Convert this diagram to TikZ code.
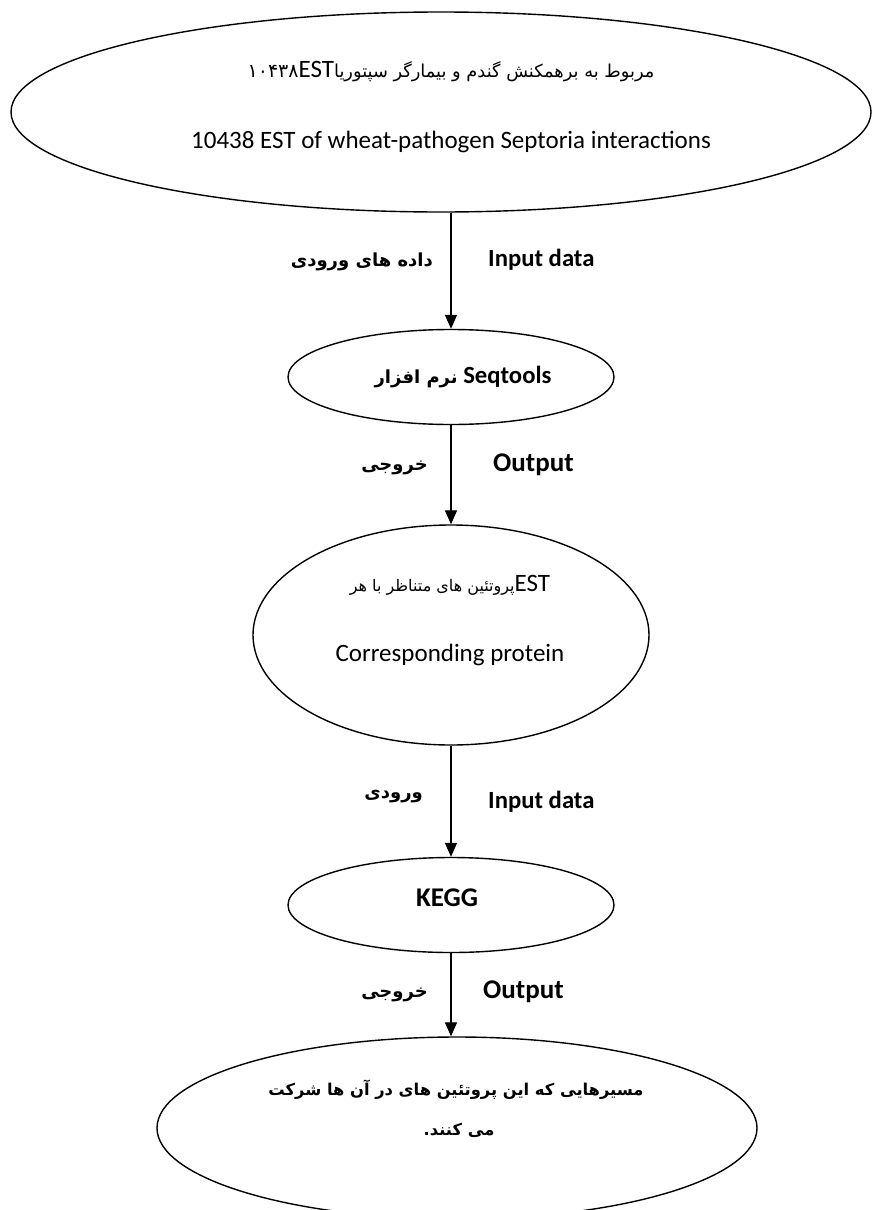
\documentclass[tikz,border=0pt]{standalone}
\usepackage{fontspec}
\setmainfont{Carlito}
\newfontfamily\fa[Script=Arabic]{DejaVu Sans}
\TeXXeTstate=1
\usetikzlibrary{shapes.geometric,arrows.meta}
\begin{document}
\begin{tikzpicture}[x=1pt,y=-1pt,
  oval/.style={draw,line width=1.4pt,ellipse,inner sep=0pt},
  arr/.style={line width=1.3pt,-{Triangle[width=12pt,length=14pt]}},
  en/.style={font=\fontsize{25}{29}\selectfont,inner sep=0pt},
  enb/.style={font=\fontsize{24.7}{29}\selectfont\bfseries,inner sep=0pt},
  enbb/.style={font=\fontsize{27}{31}\selectfont\bfseries,inner sep=0pt},
  fab/.style={font=\fontsize{18}{22}\selectfont\fa\bfseries,inner sep=0pt},
  fabb/.style={font=\fontsize{16.3}{20}\selectfont\fa\bfseries,inner sep=0pt}]
\clip (0,0) rectangle (880,1210);
\useasboundingbox (0,0) rectangle (880,1210);
% ellipses
\node[oval,minimum width=860pt,minimum height=200pt] (e1) at (441,112) {};
\node[oval,minimum width=326pt,minimum height=95pt] (e2) at (451,377) {};
\node[oval,minimum width=396pt,minimum height=220pt] (e3) at (451,635) {};
\node[oval,minimum width=326pt,minimum height=95pt] (e4) at (451,905) {};
\node[oval,minimum width=600pt,minimum height=182pt] (e5) at (457,1128) {};
% texts in ellipses
\node[en] (t1a) at (451,72) {{\fa\fontsize{19}{23}\selectfont ۱۰۴۳۸}EST{\fa\fontsize{17.8}{22}\selectfont\beginR مربوط به برهمکنش گندم و بیمارگر سپتوریا\endR}};
\node[en] (t1b) at (451,142) {10438 EST of wheat-pathogen Septoria interactions};
\node[enb] (t2) at (463,377) {{\fa\fontsize{18}{22}\selectfont\beginR نرم افزار\endR} Seqtools};
\node[en] (t3a) at (450,585) {{\fa\fontsize{16}{20}\selectfont\beginR پروتئین های متناظر با هر\endR}EST};
\node[en] (t3b) at (450,655) {Corresponding protein};
\node[enbb] (t4) at (447,898) {KEGG};
\node[fabb] (t5a) at (456,1090) {\beginR مسیرهایی که این پروتئین های در آن ها شرکت\endR};
\node[fabb] (t5b) at (459,1130) {\beginR می کنند.\endR};
% connectors
\draw[arr] (e2.north |- e1.south) -- (e2.north);
\draw[arr] (e2.south) -- (e3.north);
\draw[arr] (e3.south) -- (e4.north);
\draw[arr] (e4.south) -- (e4.south |- e5.north);
% labels
\node[fab,anchor=east] (l1) at (433,262) {\beginR داده های ورودی\endR};
\node[enb,anchor=west] (r1) at (488,260) {Input data};
\node[fab,anchor=east] (l2) at (428,468) {\beginR خروجی\endR};
\node[enbb,anchor=west] (r2) at (493,465) {Output};
\node[fab,anchor=east] (l3) at (423,797) {\beginR ورودی\endR};
\node[enb,anchor=west] (r3) at (488,802) {Input data};
\node[fab,anchor=east] (l4) at (428,995) {\beginR خروجی\endR};
\node[enbb,anchor=west] (r4) at (483,992) {Output};
\end{tikzpicture}
\end{document}
